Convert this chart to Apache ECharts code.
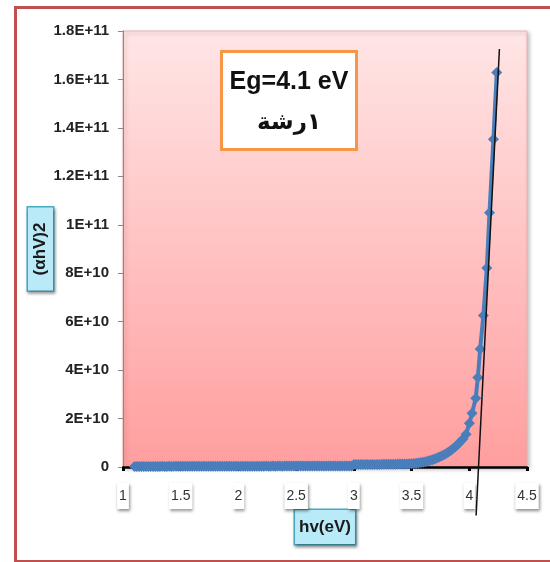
<!DOCTYPE html>
<html>
<head>
<meta charset="utf-8">
<script src="https://cdn.jsdelivr.net/npm/echarts@6/dist/echarts.min.js"></script>
<style>
html,body{margin:0;padding:0;background:#fff;}
#chart{width:550px;height:562px;}
</style>
</head>
<body>
<div id="chart"></div>
<script>
// photon energy hv (eV)
var hv = [
1.10,1.12,1.14,1.16,1.18,1.20,1.22,1.24,1.26,1.28,
1.30,1.32,1.34,1.36,1.38,1.40,1.42,1.44,1.46,1.48,
1.50,1.52,1.54,1.56,1.58,1.60,1.62,1.64,1.66,1.68,
1.70,1.72,1.74,1.76,1.78,1.80,1.82,1.84,1.86,1.88,
1.90,1.92,1.94,1.96,1.98,2.00,2.02,2.04,2.06,2.08,
2.10,2.12,2.14,2.16,2.18,2.20,2.22,2.24,2.26,2.28,
2.30,2.32,2.34,2.36,2.38,2.40,2.42,2.44,2.46,2.48,
2.50,2.52,2.54,2.56,2.58,2.60,2.62,2.64,2.66,2.68,
2.70,2.72,2.74,2.76,2.78,2.80,2.82,2.84,2.86,2.88,
2.90,2.92,2.94,2.96,2.98,
3.00,3.02,3.04,3.06,3.08,3.10,3.12,3.14,3.16,3.18,
3.20,3.22,3.24,3.26,3.28,3.30,3.32,3.34,3.36,3.38,
3.40,3.42,3.44,3.46,3.48,3.50,
3.52,3.54,3.56,3.58,3.60,3.62,3.64,3.66,3.68,3.70,
3.72,3.74,3.76,3.78,3.80,3.82,3.84,3.86,3.88,3.90,
3.92,3.945,3.972,4.001,4.024,4.056,4.074,4.094,4.122,4.152,
4.175,4.209,4.238
];
// (alpha h v)^2
var alphaHv2 = [
2.1e8,2.2e8,2.0e8,2.3e8,2.2e8,2.4e8,2.3e8,2.2e8,2.5e8,2.4e8,
2.3e8,2.5e8,2.6e8,2.4e8,2.5e8,2.6e8,2.5e8,2.7e8,2.6e8,2.8e8,
2.7e8,2.8e8,2.6e8,2.9e8,2.8e8,2.7e8,3.0e8,2.9e8,2.8e8,3.0e8,
3.1e8,2.9e8,3.0e8,3.1e8,3.0e8,3.2e8,3.1e8,3.0e8,3.2e8,3.3e8,
3.1e8,3.2e8,3.3e8,3.2e8,3.4e8,3.3e8,3.2e8,3.4e8,3.5e8,3.3e8,
3.4e8,3.5e8,3.4e8,3.6e8,3.5e8,3.4e8,3.6e8,3.7e8,3.5e8,3.6e8,
3.7e8,3.6e8,3.8e8,3.7e8,3.6e8,3.8e8,3.9e8,3.7e8,3.8e8,3.9e8,
3.8e8,4.0e8,3.9e8,3.8e8,4.0e8,4.1e8,3.9e8,4.0e8,4.1e8,4.0e8,
4.2e8,4.1e8,4.0e8,4.2e8,4.3e8,4.1e8,4.2e8,4.3e8,4.2e8,4.4e8,
4.3e8,4.5e8,4.4e8,4.6e8,4.5e8,
1.00e9,1.01e9,1.02e9,1.01e9,1.03e9,1.04e9,1.03e9,1.05e9,1.06e9,1.05e9,
1.07e9,1.08e9,1.09e9,1.10e9,1.11e9,1.12e9,1.14e9,1.15e9,1.17e9,1.19e9,
1.21e9,1.23e9,1.26e9,1.29e9,1.32e9,1.36e9,
1.45e9,1.55e9,1.68e9,1.82e9,2.0e9,2.2e9,2.45e9,2.7e9,3.0e9,3.35e9,
3.7e9,4.1e9,4.55e9,5.05e9,5.6e9,6.2e9,6.85e9,7.6e9,8.4e9,9.3e9,
1.03e10,1.16e10,1.35e10,1.81e10,2.22e10,2.84e10,3.69e10,4.87e10,6.25e10,8.22e10,
1.05e11,1.353e11,1.629e11
];
// linear fit (Tauc extrapolation)
var fitHv = [4.059, 4.261];
var fitY = [-2.0e10, 1.726e11];
// axis tick labels
var yTickLabels = ['0','2E+10','4E+10','6E+10','8E+10','1E+11','1.2E+11','1.4E+11','1.6E+11','1.8E+11'];
var titleLine1 = 'Eg=4.1 eV';
var titleLine2 = '١رشة';
var xName = 'hv(eV)';
var yName = '(αhV)2';

var pts = hv.map(function(x, i){ return [x, alphaHv2[i]]; });
var fitPts = fitHv.map(function(x, i){ return [x, fitY[i]]; });

var fam = "'Liberation Sans',Arial,sans-serif";
var chart = echarts.init(document.getElementById('chart'), null, {renderer:'canvas'});
var option = {
  animation: false,
  grid: {
    left: 123, right: 23, top: 31, bottom: 95,
    show: true,
    borderColor: '#e8b4b4', borderWidth: 1,
    backgroundColor: new echarts.graphic.LinearGradient(0,0,0,1,[
      {offset:0, color:'#ffe6e6'},
      {offset:1, color:'#ff9e9e'}
    ]),
    shadowColor: 'rgba(0,0,0,0.25)', shadowBlur: 4, shadowOffsetX: 2, shadowOffsetY: 2
  },
  xAxis: {
    type: 'value', min: 1, max: 4.5, interval: 0.5,
    axisLine: {show: true, onZero: false, lineStyle: {color: '#000', width: 2.5}},
    axisTick: {show: true, length: 4, lineStyle: {color: '#000', width: 3}},
    splitLine: {show: false},
    axisLabel: {
      margin: 16, fontSize: 14, color: '#333', fontFamily: fam,
      backgroundColor: '#fff', padding: [6, 2, 6, 2],
      shadowColor: 'rgba(0,0,0,0.45)', shadowBlur: 3, shadowOffsetX: 1, shadowOffsetY: 2
    },
    name: xName, nameLocation: 'middle', nameGap: 43, nameMoveOverlap: false,
    nameTextStyle: {
      fontSize: 17, fontWeight: 'bold', color: '#1a1a1a', fontFamily: fam,
      backgroundColor: '#b8eaf7', borderColor: '#4bacc6', borderWidth: 1.5,
      padding: [9, 4, 8, 4],
      shadowColor: 'rgba(0,0,0,0.35)', shadowBlur: 3, shadowOffsetX: 1, shadowOffsetY: 2
    }
  },
  yAxis: {
    type: 'value', min: 0, max: 1.8e11, interval: 2e10,
    axisLine: {show: true, lineStyle: {color: '#888', width: 1}},
    axisTick: {show: true, length: 5, lineStyle: {color: '#888'}},
    splitLine: {show: false},
    axisLabel: {
      margin: 14, fontSize: 15, fontWeight: 'bold', color: '#222', fontFamily: fam,
      formatter: function(v){ return yTickLabels[Math.round(v / 2e10)]; }
    },
    name: yName, nameLocation: 'middle', nameRotate: 90, nameGap: 70, nameMoveOverlap: false,
    nameTextStyle: {
      fontSize: 17, fontWeight: 'bold', color: '#1a1a1a', fontFamily: fam,
      backgroundColor: '#b8eaf7', borderColor: '#4bacc6', borderWidth: 1.5,
      padding: [4, 15, 4, 15],
      shadowColor: 'rgba(0,0,0,0.35)', shadowBlur: 3, shadowOffsetX: 1, shadowOffsetY: 2
    }
  },
  series: [
    {
      type: 'line', data: pts, symbol: 'diamond', symbolSize: 11, showAllSymbol: true,
      itemStyle: {color: '#4a7ebb'},
      lineStyle: {color: '#4a7ebb', width: 4},
      z: 2
    },
    {
      type: 'line', data: fitPts, symbol: 'none', clip: false,
      lineStyle: {color: '#111', width: 1.5},
      z: 3
    }
  ],
  graphic: [
    {
      type: 'rect', left: 13, top: 5, z: 100,
      shape: {x: 0, y: 0, width: 560, height: 554},
      style: {fill: 'none', stroke: '#c0504d', lineWidth: 3}
    },
    {
      type: 'group', left: 220, top: 50, z: 100,
      children: [
        {type: 'rect', shape: {x: 0, y: 0, width: 135, height: 98},
         style: {fill: '#fff', stroke: '#f79646', lineWidth: 3}},
        {type: 'text', x: 67.5, y: 31,
         style: {text: titleLine1, fontSize: 25, fontWeight: 'bold', fill: '#111',
                 fontFamily: fam, align: 'center', verticalAlign: 'middle'}},
        {type: 'text', x: 67.5, y: 72,
         style: {text: titleLine2, fontSize: 23, fontWeight: 'bold', fill: '#111',
                 fontFamily: "'DejaVu Sans',sans-serif", align: 'center', verticalAlign: 'middle'}}
      ]
    }
  ]
};
chart.setOption(option);
</script>
</body>
</html>
